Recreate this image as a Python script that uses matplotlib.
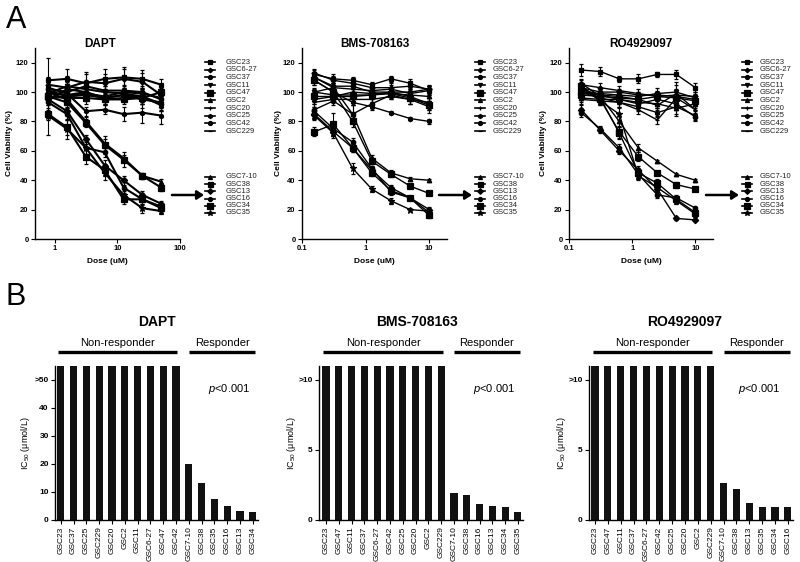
import matplotlib
matplotlib.use('Agg')
import matplotlib.pyplot as plt
from matplotlib.lines import Line2D
from matplotlib.ticker import NullLocator

plt.rcParams['font.family'] = ['Liberation Sans', 'DejaVu Sans']
plt.rcParams['mathtext.fontset'] = 'custom'
plt.rcParams['mathtext.rm'] = 'Liberation Sans'
plt.rcParams['mathtext.it'] = 'Liberation Sans:italic'

# ---- data: dose-response curves (panel A) ----
nonresp_names = ['GSC23', 'GSC6-27', 'GSC37', 'GSC11', 'GSC47', 'GSC2', 'GSC20', 'GSC25', 'GSC42', 'GSC229']
resp_names = ['GSC7-10', 'GSC38', 'GSC13', 'GSC16', 'GSC34', 'GSC35']

dapt_doses = [0.78, 1.56, 3.125, 6.25, 12.5, 25, 50]
dapt_nonresp = [
    [108, 109, 106, 109, 110, 109, 105],
    [105, 103, 107, 106, 109, 107, 98],
    [102, 100, 104, 101, 101, 100, 95],
    [99, 104, 102, 100, 99, 97, 92],
    [97, 96, 96, 95, 95, 96, 100],
    [100, 98, 100, 95, 96, 97, 91],
    [96, 97, 98, 96, 98, 95, 93],
    [103, 99, 87, 88, 85, 86, 84],
    [95, 102, 100, 96, 98, 96, 92],
    [101, 97, 99, 97, 100, 99, 96],
]
dapt_nonresp_err = [
    [15, 7, 8, 7, 7, 6, 4],
    [5, 8, 5, 6, 7, 6, 4],
    [4, 4, 4, 3, 4, 4, 3],
    [3, 5, 3, 4, 5, 4, 4],
    [4, 3, 4, 3, 3, 4, 3],
    [4, 4, 3, 4, 3, 5, 4],
    [3, 3, 4, 3, 4, 3, 4],
    [5, 4, 3, 3, 5, 7, 6],
    [4, 5, 4, 4, 4, 7, 5],
    [3, 3, 3, 3, 3, 3, 3],
]
dapt_resp = [
    [100, 95, 80, 65, 55, 43, 39],
    [97, 93, 79, 64, 54, 43, 35],
    [95, 87, 68, 50, 40, 30, 24],
    [93, 85, 62, 59, 35, 27, 22],
    [85, 76, 56, 47, 27, 27, 21],
    [84, 75, 62, 45, 30, 21, 19],
]
dapt_resp_err = [
    [4, 4, 3, 3, 2, 2, 2],
    [3, 4, 3, 6, 5, 2, 2],
    [4, 3, 3, 4, 3, 3, 2],
    [5, 4, 4, 3, 4, 3, 2],
    [4, 5, 5, 4, 3, 4, 2],
    [13, 7, 6, 5, 3, 3, 2],
]

bms_doses = [0.156, 0.3125, 0.625, 1.25, 2.5, 5, 10]
bms_nonresp = [
    [112, 109, 108, 105, 109, 106, 101],
    [113, 108, 106, 103, 103, 104, 102],
    [110, 104, 104, 100, 100, 100, 102],
    [100, 98, 98, 98, 100, 97, 92],
    [97, 97, 97, 98, 99, 96, 91],
    [95, 97, 100, 99, 99, 98, 97],
    [93, 95, 95, 95, 97, 95, 93],
    [108, 100, 93, 90, 86, 82, 80],
    [88, 94, 85, 92, 98, 95, 90],
    [100, 103, 102, 101, 102, 99, 101],
]
bms_nonresp_err = [
    [3, 3, 2, 2, 2, 3, 3],
    [3, 3, 3, 2, 3, 3, 2],
    [2, 2, 2, 2, 2, 2, 3],
    [2, 2, 2, 2, 2, 2, 4],
    [2, 2, 2, 2, 2, 2, 3],
    [3, 3, 2, 3, 3, 6, 3],
    [3, 2, 2, 2, 2, 3, 3],
    [3, 2, 2, 2, 1, 1, 2],
    [4, 3, 6, 3, 3, 3, 4],
    [3, 3, 3, 3, 3, 3, 3],
]
bms_resp = [
    [110, 103, 85, 55, 45, 41, 40],
    [108, 100, 80, 53, 44, 36, 31],
    [85, 73, 62, 47, 35, 28, 20],
    [87, 75, 66, 48, 32, 28, 18],
    [73, 78, 62, 45, 33, 28, 16],
    [84, 72, 48, 34, 26, 20, 19],
]
bms_resp_err = [
    [3, 3, 6, 2, 2, 1, 1],
    [3, 3, 4, 2, 2, 1, 1],
    [3, 3, 3, 2, 2, 1, 2],
    [3, 3, 3, 2, 2, 1, 2],
    [3, 8, 3, 2, 2, 1, 2],
    [3, 3, 4, 2, 2, 1, 2],
]

ro_doses = [0.156, 0.3125, 0.625, 1.25, 2.5, 5, 10]
ro_nonresp = [
    [115, 114, 109, 109, 112, 112, 103],
    [105, 103, 101, 99, 97, 98, 97],
    [103, 100, 100, 98, 98, 97, 95],
    [100, 99, 98, 97, 99, 100, 96],
    [98, 97, 96, 95, 97, 96, 94],
    [96, 95, 95, 93, 92, 89, 92],
    [95, 94, 93, 88, 81, 96, 88],
    [101, 96, 93, 90, 86, 90, 84],
    [99, 98, 95, 92, 95, 92, 83],
    [102, 98, 97, 95, 91, 99, 88],
]
ro_nonresp_err = [
    [4, 3, 2, 3, 2, 3, 3],
    [3, 3, 3, 3, 3, 4, 3],
    [3, 3, 2, 2, 3, 3, 3],
    [3, 2, 2, 3, 4, 7, 3],
    [2, 2, 2, 2, 2, 3, 3],
    [3, 3, 3, 3, 3, 5, 3],
    [3, 3, 3, 3, 3, 4, 3],
    [3, 3, 3, 3, 3, 5, 3],
    [3, 3, 3, 3, 3, 3, 3],
    [3, 4, 3, 3, 3, 6, 3],
]
ro_resp = [
    [106, 97, 80, 62, 53, 44, 40],
    [104, 95, 73, 56, 45, 37, 34],
    [88, 74, 60, 47, 34, 14, 13],
    [86, 75, 62, 44, 30, 28, 21],
    [100, 96, 72, 45, 38, 27, 18],
    [103, 94, 85, 43, 35, 26, 17],
]
ro_resp_err = [
    [3, 3, 4, 3, 1, 1, 1],
    [3, 3, 4, 3, 1, 2, 1],
    [3, 2, 2, 3, 2, 1, 1],
    [3, 2, 3, 3, 2, 2, 1],
    [3, 3, 4, 3, 3, 2, 2],
    [3, 3, 4, 3, 2, 2, 2],
]

# ---- data: IC50 bars (panel B) ----
dapt_bar_names = ['GSC23', 'GSC37', 'GSC25', 'GSC229', 'GSC20', 'GSC2', 'GSC11', 'GSC6-27', 'GSC47', 'GSC42',
                  'GSC7-10', 'GSC38', 'GSC35', 'GSC16', 'GSC13', 'GSC34']
dapt_ic50 = [55, 55, 55, 55, 55, 55, 55, 55, 55, 55, 19.8, 13.3, 7.5, 5.0, 3.2, 3.0]

bms_bar_names = ['GSC23', 'GSC47', 'GSC11', 'GSC37', 'GSC6-27', 'GSC42', 'GSC25', 'GSC20', 'GSC2', 'GSC229',
                 'GSC7-10', 'GSC38', 'GSC16', 'GSC13', 'GSC34', 'GSC35']
bms_ic50 = [11, 11, 11, 11, 11, 11, 11, 11, 11, 11, 1.95, 1.8, 1.15, 1.0, 0.95, 0.55]

ro_bar_names = ['GSC23', 'GSC47', 'GSC11', 'GSC37', 'GSC6-27', 'GSC42', 'GSC25', 'GSC20', 'GSC2', 'GSC229',
                'GSC7-10', 'GSC38', 'GSC13', 'GSC35', 'GSC34', 'GSC16']
ro_ic50 = [11, 11, 11, 11, 11, 11, 11, 11, 11, 11, 2.65, 2.2, 1.18, 0.95, 0.93, 0.9]

# marker per cell line
markers = {'GSC23': 's', 'GSC6-27': 'D', 'GSC37': 'o', 'GSC11': 'v', 'GSC47': 's',
           'GSC2': '^', 'GSC20': '+', 'GSC25': 'h', 'GSC42': 'o', 'GSC229': '_',
           'GSC7-10': '^', 'GSC38': 's', 'GSC13': 'D', 'GSC16': 'o', 'GSC34': 's', 'GSC35': '*'}
msizes = {'GSC47': 4.5, 'GSC34': 4.2, 'GSC38': 4.0, 'GSC35': 4.5, 'GSC6-27': 2.6}

W, H = 800, 562


def box(l, r, t, b):
    return [l / W, 1 - b / H, (r - l) / W, (b - t) / H]


def fx(x):
    return x / W


def fy(y):
    return 1 - y / H


fig = plt.figure(figsize=(8, 5.62), dpi=100)


def style_axes(ax):
    for s in ('top', 'right'):
        ax.spines[s].set_visible(False)
    for s in ('left', 'bottom'):
        ax.spines[s].set_linewidth(1.0)
    ax.tick_params(direction='out', length=3, width=0.8, labelsize=5.5, pad=1.5)
    for lab in ax.get_yticklabels():
        lab.set_fontweight('bold')


def curve_panel(rect, doses, vals_nr, err_nr, vals_r, err_r, title, xlim, xticks, xlabels,
                lw, title_x, ylab_x):
    ax = fig.add_axes(rect)
    ax.set_xscale('log')
    for names, vals, errs in ((nonresp_names, vals_nr, err_nr), (resp_names, vals_r, err_r)):
        for name, v, e in zip(names, vals, errs):
            ax.errorbar(doses, v, yerr=e, color='black', lw=lw, marker=markers[name],
                        ms=msizes.get(name, 3.2), mew=0.9, capsize=1.6, elinewidth=0.8,
                        capthick=0.8, clip_on=False)
    ax.set_xlim(xlim)
    ax.set_ylim(0, 130)
    ax.set_yticks([0, 20, 40, 60, 80, 100, 120])
    ax.set_xticks(xticks)
    ax.set_xticklabels(xlabels)
    ax.xaxis.set_minor_locator(NullLocator())
    style_axes(ax)
    for lab in ax.get_xticklabels():
        lab.set_fontweight('bold')
    ax.set_ylabel('Cell Viability (%)', fontsize=6, fontweight='bold')
    ax.yaxis.set_label_coords(ylab_x, 0.5)
    ax.set_xlabel('Dose (uM)', fontsize=6, fontweight='bold')
    ax.xaxis.set_label_coords(0.5, -0.1)
    ax.text(title_x, 1.02, title, transform=ax.transAxes, ha='center', va='center',
            fontsize=8.5, fontweight='bold')
    return ax


def legend_block(xm, xt, y0, step, names, lw):
    for i, name in enumerate(names):
        y = y0 + i * step
        fig.add_artist(Line2D([fx(xm - 5), fx(xm), fx(xm + 5)], [fy(y)] * 3, color='black', lw=lw,
                              marker=markers[name], markevery=[1], ms=msizes.get(name, 3.2) * 0.9,
                              mew=0.9, transform=fig.transFigure))
        fig.text(fx(xt), fy(y), name, fontsize=5.5, va='center', ha='left', color='#222222')


def arrow(x0, x1, y):
    fig.add_artist(matplotlib.patches.FancyArrowPatch(
        (fx(x0), fy(y)), (fx(x1), fy(y)), transform=fig.transFigure,
        arrowstyle='-|>,head_length=4,head_width=2.6', lw=1.8, color='black',
        shrinkA=0, shrinkB=0))


# ---- panel A ----
curve_panel(box(35, 180, 48, 239), dapt_doses, dapt_nonresp, dapt_nonresp_err, dapt_resp, dapt_resp_err,
            'DAPT', (0.48, 100), [1, 10, 100], ['1', '10', '100'], 1.5, 0.45, -0.152)
curve_panel(box(302, 447, 48, 239), bms_doses, bms_nonresp, bms_nonresp_err, bms_resp, bms_resp_err,
            'BMS-708163', (0.1, 19), [0.1, 1, 10], ['0.1', '1', '10'], 1.0, 0.5, -0.14)
curve_panel(box(569, 713, 48, 239), ro_doses, ro_nonresp, ro_nonresp_err, ro_resp, ro_resp_err,
            'RO4929097', (0.1, 19), [0.1, 1, 10], ['0.1', '1', '10'], 1.0, 0.5, -0.153)

legend_block(210, 226, 62, 7.67, nonresp_names, 1.2)
legend_block(210, 226, 177, 7.2, resp_names, 1.2)
legend_block(480, 493, 62, 7.67, nonresp_names, 1.2)
legend_block(480, 493, 177, 7.2, resp_names, 1.2)
legend_block(747, 760, 62, 7.67, nonresp_names, 1.2)
legend_block(747, 760, 177, 7.2, resp_names, 1.2)

arrow(172, 204, 195)
arrow(439, 472, 195)
arrow(706, 739, 195)


# ---- panel B ----
def bar_panel(rect, names, vals, ymax, yticks, ylabels, xlim, title, title_x, nr_span, r_span,
              p_x, ylab_x):
    ax = fig.add_axes(rect)
    pos = list(range(len(names)))
    ax.bar(pos, vals, width=0.56, color='#111111')
    ax.set_xlim(xlim)
    ax.set_ylim(0, ymax)
    ax.set_xticks(pos)
    ax.set_xticklabels(names, rotation=90, fontsize=6)
    ax.set_yticks(yticks)
    ax.set_yticklabels(ylabels)
    style_axes(ax)
    ax.tick_params(axis='y', labelsize=6)
    ax.tick_params(axis='x', labelsize=6)
    for lab in ax.get_yticklabels():
        lab.set_fontweight('bold')
    ax.set_ylabel(r'IC$_{50}$ ($\mathrm{\mu}$mol/L)', fontsize=6.5)
    ax.set_ylabel('IC$_{50}$ (μmol/L)', fontsize=6.5)
    ax.yaxis.set_label_coords(ylab_x, 0.5)
    tr = ax.get_xaxis_transform()
    ax.plot(nr_span, [1.089, 1.089], transform=tr, clip_on=False, lw=2.4, color='black',
            solid_capstyle='butt')
    ax.plot(r_span, [1.089, 1.089], transform=tr, clip_on=False, lw=2.4, color='black',
            solid_capstyle='butt')
    ax.text(sum(nr_span) / 2, 1.15, 'Non-responder', transform=tr, ha='center', va='center', fontsize=8)
    ax.text(sum(r_span) / 2, 1.15, 'Responder', transform=tr, ha='center', va='center', fontsize=8)
    ax.text(title_x, 1.283, title, transform=ax.transAxes, ha='center', va='center',
            fontsize=10, fontweight='bold')
    ax.text(p_x, 0.849, r'$\it{p}$<0.001', transform=ax.transAxes, ha='left', va='center', fontsize=8)
    return ax


bar_panel(box(55, 258, 365.7, 520), dapt_bar_names, dapt_ic50, 55, [0, 10, 20, 30, 40, 50],
          ['0', '10', '20', '30', '40', '>50'], (-0.45, 15.4), 'DAPT', 0.5,
          (-0.2, 9.1), (10.0, 15.2), 0.754, -0.113)
bar_panel(box(319, 523, 365.7, 520), bms_bar_names, bms_ic50, 11, [0, 5, 10],
          ['0', '5', '>10'], (-0.55, 15.4), 'BMS-708163', 0.48,
          (-0.23, 9.15), (10.0, 15.15), 0.755, -0.103)
bar_panel(box(589, 793, 365.7, 520), ro_bar_names, ro_ic50, 11, [0, 5, 10],
          ['0', '5', '>10'], (-0.47, 15.4), 'RO4929097', 0.47,
          (-0.16, 9.1), (10.0, 15.15), 0.73, -0.103)

fig.text(fx(6), fy(28), 'A', fontsize=22, ha='left', va='baseline')
fig.text(fx(5), fy(305), 'B', fontsize=22, ha='left', va='baseline')

fig.savefig('out.png', dpi=100)
